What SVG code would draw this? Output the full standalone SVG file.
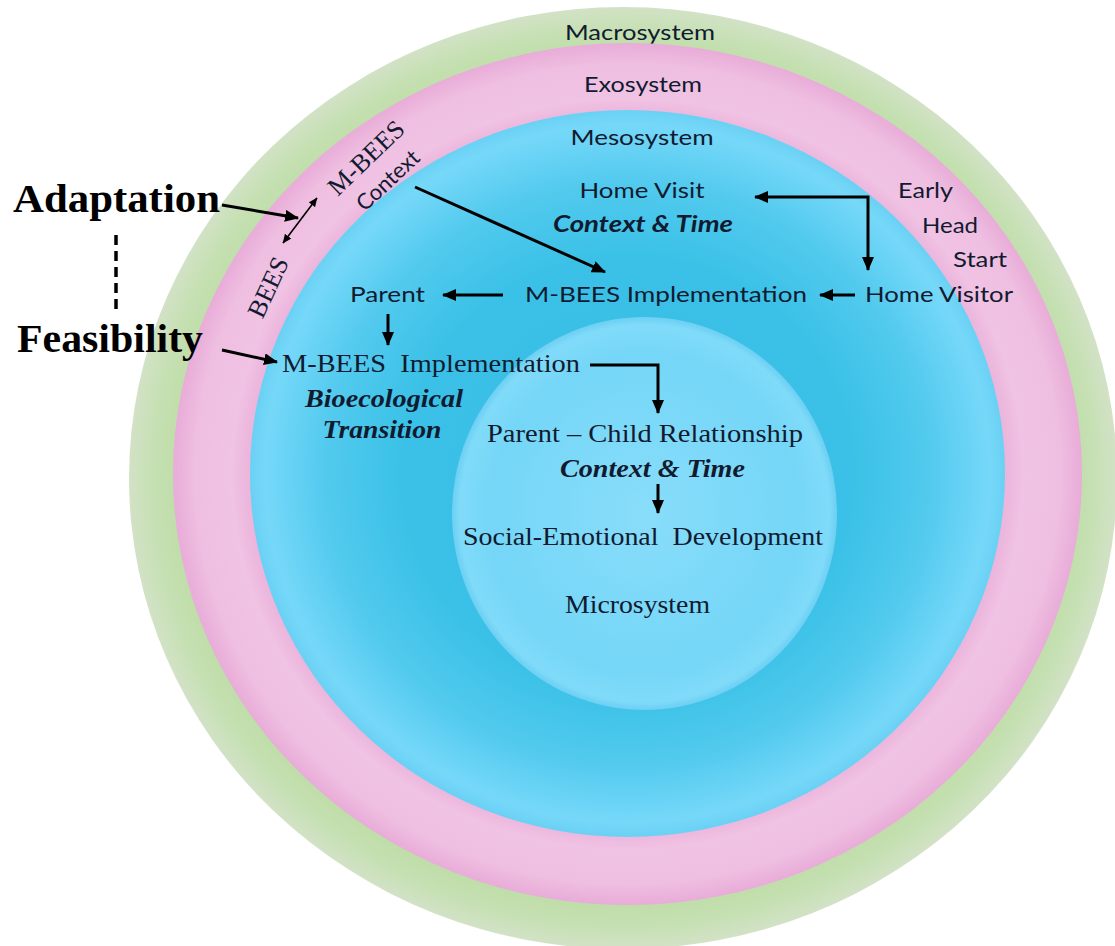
<svg xmlns="http://www.w3.org/2000/svg" width="1115" height="946" viewBox="0 0 1115 946">
<style>
.sans{font-family:Lato,"Open Sans","Liberation Sans",sans-serif;font-size:22px;fill:#111b30}
.serif{font-family:"Liberation Serif","Times New Roman",serif;font-size:26px;fill:#111b30}
.bi{font-weight:bold;font-style:italic}
.big{font-family:"Liberation Serif","Times New Roman",serif;font-size:41px;font-weight:bold;fill:#000}
.ar{fill:none;stroke:#000;stroke-width:3}
.pre{white-space:pre}
</style>
<defs>
<radialGradient id="gGreen" cx="50%" cy="50%" r="50%">
<stop offset="0.88" stop-color="#bcdca4"/>
<stop offset="0.95" stop-color="#c5e0b2"/>
<stop offset="1" stop-color="#d2e2c6"/>
</radialGradient>
<radialGradient id="gPink" cx="50%" cy="50%" r="50%">
<stop offset="0.8" stop-color="#e7a9d6"/>
<stop offset="0.87" stop-color="#f0c2e3"/>
<stop offset="0.95" stop-color="#efbfe1"/>
<stop offset="1" stop-color="#e8acd8"/>
</radialGradient>
<radialGradient id="gBlue" cx="50%" cy="50%" r="50%">
<stop offset="0" stop-color="#37bce4"/>
<stop offset="0.6" stop-color="#3bc1e7"/>
<stop offset="0.8" stop-color="#52caee"/>
<stop offset="0.96" stop-color="#76d8f9"/>
<stop offset="1" stop-color="#6ad1f4"/>
</radialGradient>
<radialGradient id="gMicro" cx="50%" cy="50%" r="50%">
<stop offset="0" stop-color="#88ddfa"/>
<stop offset="0.8" stop-color="#75d6f7"/>
<stop offset="0.96" stop-color="#80dbf9"/>
<stop offset="1" stop-color="#6ccff3"/>
</radialGradient>
<marker id="ah" markerUnits="userSpaceOnUse" markerWidth="14" markerHeight="12" refX="13" refY="6" orient="auto-start-reverse">
<path d="M0,0 L14,6 L0,12 z" fill="#000"/>
</marker>
<marker id="ahs" markerUnits="userSpaceOnUse" markerWidth="9" markerHeight="8" refX="8.5" refY="4" orient="auto-start-reverse">
<path d="M0,0 L9,4 L0,8 z" fill="#000"/>
</marker>
</defs>

<g id="macrosystem">
<ellipse cx="623" cy="478" rx="494" ry="471" fill="url(#gGreen)"/>
<text class="sans" x="640" y="40" text-anchor="middle" textLength="150" lengthAdjust="spacingAndGlyphs">Macrosystem</text>
</g>
<g id="exosystem">
<ellipse cx="627.5" cy="474" rx="454.5" ry="431" fill="url(#gPink)"/>
<text class="sans" x="643" y="92" text-anchor="middle" textLength="118" lengthAdjust="spacingAndGlyphs">Exosystem</text>
</g>
<g id="mesosystem">
<ellipse cx="627.5" cy="473.5" rx="377.5" ry="363.5" fill="url(#gBlue)"/>
<text class="sans" x="642" y="145" text-anchor="middle" textLength="143" lengthAdjust="spacingAndGlyphs">Mesosystem</text>
</g>
<g id="microsystem">
<ellipse cx="644.5" cy="513.5" rx="192.5" ry="196.5" fill="url(#gMicro)"/>
<text class="serif" x="565" y="613" textLength="145" lengthAdjust="spacingAndGlyphs">Microsystem</text>
</g>

<g id="adaptation"><text class="big" x="13" y="212" textLength="207" lengthAdjust="spacingAndGlyphs">Adaptation</text></g>
<g id="feasibility"><text class="big" x="17" y="352" textLength="186" lengthAdjust="spacingAndGlyphs">Feasibility</text></g>
<g id="bees"><text class="serif" font-size="26" x="0" y="0" text-anchor="middle" transform="translate(276,291) rotate(-65)">BEES</text></g>
<g id="mbees-context">
<text class="serif" font-size="26" x="0" y="0" text-anchor="middle" transform="translate(372,164) rotate(-44)">M-BEES</text>
<text class="sans" font-size="24" x="0" y="0" text-anchor="middle" transform="translate(393,186) rotate(-43)">Context</text>
</g>
<g id="home-visit">
<text class="sans" x="642" y="198" text-anchor="middle" textLength="125" lengthAdjust="spacingAndGlyphs">Home Visit</text>
<text class="sans bi" x="643" y="232" text-anchor="middle" textLength="180" lengthAdjust="spacingAndGlyphs">Context &amp; Time</text>
</g>
<g id="early-head-start">
<text class="sans" x="898" y="198" textLength="55" lengthAdjust="spacingAndGlyphs">Early</text>
<text class="sans" x="922" y="233" textLength="56" lengthAdjust="spacingAndGlyphs">Head</text>
<text class="sans" x="953" y="267" textLength="54" lengthAdjust="spacingAndGlyphs">Start</text>
</g>
<g id="meso-implementation"><text class="sans" x="525" y="302" textLength="282" lengthAdjust="spacingAndGlyphs">M-BEES Implementation</text></g>
<g id="home-visitor"><text class="sans" x="865" y="302" textLength="148" lengthAdjust="spacingAndGlyphs">Home Visitor</text></g>
<g id="parent"><text class="sans" x="350" y="302" textLength="75" lengthAdjust="spacingAndGlyphs">Parent</text></g>
<g id="implementation-transition">
<text class="serif pre" x="282" y="372" textLength="298" lengthAdjust="spacingAndGlyphs">M-BEES  Implementation</text>
<text class="serif bi" font-size="25" x="384" y="407" text-anchor="middle" textLength="158" lengthAdjust="spacingAndGlyphs">Bioecological</text>
<text class="serif bi" font-size="25" x="382" y="438" text-anchor="middle" textLength="119" lengthAdjust="spacingAndGlyphs">Transition</text>
</g>
<g id="parent-child">
<text class="serif" x="487" y="442" textLength="316" lengthAdjust="spacingAndGlyphs">Parent – Child Relationship</text>
<text class="serif bi" x="560" y="477" textLength="185" lengthAdjust="spacingAndGlyphs">Context &amp; Time</text>
</g>
<g id="social-emotional"><text class="serif pre" x="463" y="545" textLength="360" lengthAdjust="spacingAndGlyphs">Social-Emotional  Development</text></g>

<g id="connectors">
<line x1="116" y1="235" x2="116" y2="313" stroke="#000" stroke-width="3.5" stroke-dasharray="10,6"/>
<path class="ar" d="M222,205 L298,218" marker-end="url(#ah)"/>
<path class="ar" d="M222,350 L277,362" marker-end="url(#ah)"/>
<path d="M283,243 L317,198" fill="none" stroke="#000" stroke-width="1.6" marker-start="url(#ahs)" marker-end="url(#ahs)"/>
<path class="ar" d="M415,187 L605,272" marker-end="url(#ah)"/>
<path class="ar" d="M755,197 L868,197 L868,270" marker-start="url(#ah)" marker-end="url(#ah)"/>
<path class="ar" d="M855,295 L820,295" marker-end="url(#ah)"/>
<path class="ar" d="M503,295 L443,295" marker-end="url(#ah)"/>
<path class="ar" d="M388,314 L388,345" marker-end="url(#ah)"/>
<path class="ar" d="M590,365 L658,365 L658,413" marker-end="url(#ah)"/>
<path class="ar" d="M658,484 L658,513" marker-end="url(#ah)"/>
</g>
</svg>
